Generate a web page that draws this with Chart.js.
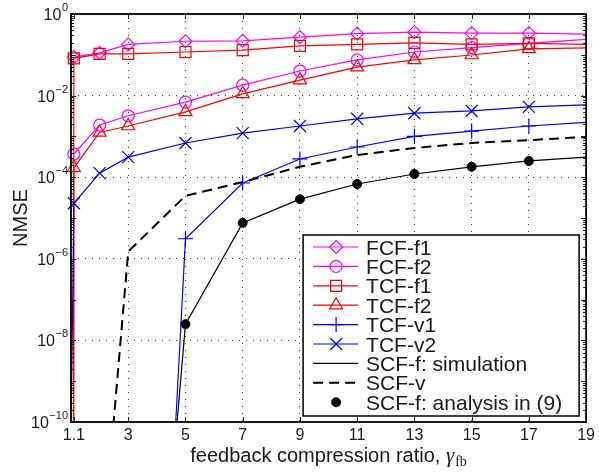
<!DOCTYPE html>
<html>
<head>
<meta charset="utf-8">
<script src="https://cdn.jsdelivr.net/npm/chart.js@4.4.1/dist/chart.umd.min.js"></script>
<style>
  html, body { margin: 0; padding: 0; background: #fff; }
  .chart-container { position: relative; width: 599px; height: 473px; }
</style>
</head>
<body>
<div class="chart-container">
  <canvas id="nmseChart" width="599" height="473"></canvas>
</div>
<script>
  // axis ticks
  const xTicks = [1.1, 3, 5, 7, 9, 11, 13, 15, 17, 19];
  const yTicks = [1e-10, 1e-8, 1e-6, 1e-4, 1e-2, 1];

  // x positions of each curve
  const xFCF = [1.1, 2, 3, 5, 7, 9, 11, 13, 15, 17, 19];
  const xTCF = [1, 1.1, 2, 3, 5, 7, 9, 11, 13, 15, 17, 19];
  const xTCFv1 = [3, 5, 7, 9, 11, 13, 15, 17, 19];
  const xSCFv = [2, 3, 5, 7, 9, 11, 13, 15, 17, 19];
  const xSCFsim = [3, 5, 7, 9, 11, 13, 15, 17, 19];
  const xSCFana = [5, 7, 9, 11, 13, 15, 17];

  // NMSE values
  const fcfF1 = [0.088, 0.112, 0.18, 0.215, 0.22, 0.27, 0.33, 0.36, 0.34, 0.34, 0.32];
  const fcfF2 = [3.7e-4, 1.9e-3, 3.2e-3, 6.9e-3, 0.018, 0.040, 0.075, 0.117, 0.15, 0.19, 0.24];
  const tcfF1 = [1e-100, 0.082, 0.105, 0.105, 0.117, 0.13, 0.165, 0.18, 0.195, 0.18, 0.19, 0.18];
  const tcfF2 = [1e-100, 1.7e-4, 1.25e-3, 1.8e-3, 4.0e-3, 0.011, 0.024, 0.050, 0.075, 0.099, 0.14, 0.147];
  const tcfV1 = [1e-32, 3.1e-6, 7.2e-5, 2.8e-4, 5.5e-4, 1.0e-3, 1.35e-3, 1.8e-3, 2.2e-3];
  const tcfV2 = [4e-11, 2.3e-5, 1.26e-4, 3.1e-4, 6.9e-4, 1.2e-3, 1.8e-3, 2.7e-3, 3.7e-3, 4.2e-3, 5.3e-3, 5.9e-3];
  const scfV = [1e-14, 1.5e-6, 3.5e-5, 7.6e-5, 1.8e-4, 3.5e-4, 5.2e-4, 6.9e-4, 8.1e-4, 9.7e-4];
  const scfSim = [1e-24, 2.5e-8, 7.6e-6, 2.9e-5, 6.8e-5, 1.2e-4, 1.8e-4, 2.5e-4, 3.1e-4];
  const scfAna = [2.5e-8, 7.6e-6, 2.9e-5, 6.8e-5, 1.2e-4, 1.8e-4, 2.5e-4];

  const yMin = 1e-10;
  const xMax = 19;
  const font = "'Liberation Sans', Arial, sans-serif";
  const textColor = "#1a1a1a";

  function pts(xs, ys) {
    return xs.map((x, i) => ({ x: x, y: ys[i] }));
  }

  // no marker where the point is off the axes or at the right edge
  function markerSize(r) {
    return (ctx) => {
      const p = ctx.raw;
      if (!p || p.y < yMin || p.x >= xMax) return 0;
      return r;
    };
  }

  function series(label, xs, ys, color, style, r, extra) {
    return Object.assign({
      label: label,
      data: pts(xs, ys),
      borderColor: color,
      borderWidth: 1.2,
      pointStyle: style,
      pointRadius: markerSize(r),
      pointHoverRadius: 0,
      pointBorderColor: color,
      pointBackgroundColor: "rgba(0,0,0,0)",
      pointBorderWidth: 1.2,
      tension: 0,
      fill: false,
      markerR: r,
      clip: { left: 8, top: 8, right: 0, bottom: 0 },
    }, extra || {});
  }

  const datasets = [
    series("FCF-f1", xFCF, fcfF1, "#ff00ff", "rectRot", 6.5),
    series("FCF-f2", xFCF, fcfF2, "#ff00ff", "circle", 6),
    series("TCF-f1", xTCF, tcfF1, "#ff0000", "rect", 7.8),
    series("TCF-f2", xTCF, tcfF2, "#ff0000", "triangle", 7.5),
    series("TCF-v1", xTCFv1, tcfV1, "#0000ff", "cross", 7.5),
    series("TCF-v2", xTCF, tcfV2, "#0000ff", "crossRot", 8.5),
    series("SCF-f: simulation", xSCFsim, scfSim, "#000000", false, 0, { pointRadius: 0 }),
    series("SCF-v", xSCFv, scfV, "#000000", false, 0, { pointRadius: 0, borderWidth: 2, borderDash: [10, 6] }),
    series("SCF-f: analysis in (9)", xSCFana, scfAna, "#000000", "circle", 4.5, {
      showLine: false, pointBackgroundColor: "#000000", pointBorderWidth: 1,
    }),
  ];
  // later series drawn on top, like the original plot
  datasets.forEach((d, i) => { d.order = -i; });

  function drawMarker(ctx, style, r, x, y, filled) {
    if (!style || !r) return;
    ctx.beginPath();
    if (style === "circle") {
      ctx.arc(x, y, r, 0, Math.PI * 2);
    } else if (style === "rectRot") {
      ctx.moveTo(x - r, y); ctx.lineTo(x, y - r); ctx.lineTo(x + r, y); ctx.lineTo(x, y + r); ctx.closePath();
    } else if (style === "rect") {
      const s = r * Math.SQRT1_2;
      ctx.rect(x - s, y - s, 2 * s, 2 * s);
    } else if (style === "triangle") {
      ctx.moveTo(x, y - r); ctx.lineTo(x + r * 0.866, y + r / 2); ctx.lineTo(x - r * 0.866, y + r / 2); ctx.closePath();
    } else if (style === "cross") {
      ctx.moveTo(x, y - r); ctx.lineTo(x, y + r); ctx.moveTo(x - r, y); ctx.lineTo(x + r, y);
    } else if (style === "crossRot") {
      const s = r * Math.SQRT1_2;
      ctx.moveTo(x - s, y - s); ctx.lineTo(x + s, y + s); ctx.moveTo(x - s, y + s); ctx.lineTo(x + s, y - s);
    }
    if (filled) ctx.fill();
    ctx.stroke();
  }

  const decorations = {
    id: "decorations",
    afterDatasetsDraw(chart) {
      const ctx = chart.ctx;
      const a = chart.chartArea;
      const xs = chart.scales.x;
      const ys = chart.scales.y;
      ctx.save();

      // inward tick marks
      ctx.strokeStyle = "#222";
      ctx.lineWidth = 1;
      ctx.beginPath();
      xTicks.forEach((v) => {
        const px = Math.round(xs.getPixelForValue(v)) + 0.5;
        ctx.moveTo(px, a.bottom); ctx.lineTo(px, a.bottom - 5);
        ctx.moveTo(px, a.top); ctx.lineTo(px, a.top + 5);
      });
      for (let e = -10; e <= 0; e++) {
        const py = Math.round(ys.getPixelForValue(Math.pow(10, e))) + 0.5;
        ctx.moveTo(a.left, py); ctx.lineTo(a.left + 5, py);
        ctx.moveTo(a.right, py); ctx.lineTo(a.right - 5, py);
        if (e < 0) {
          for (let k = 2; k <= 9; k++) {
            const pm = Math.round(ys.getPixelForValue(k * Math.pow(10, e))) + 0.5;
            ctx.moveTo(a.left, pm); ctx.lineTo(a.left + 3, pm);
            ctx.moveTo(a.right, pm); ctx.lineTo(a.right - 3, pm);
          }
        }
      }
      ctx.stroke();

      // axes box
      ctx.strokeStyle = "#000";
      ctx.lineWidth = 1.8;
      ctx.strokeRect(a.left, a.top, a.right - a.left, a.bottom - a.top);

      // y tick labels 10^n
      ctx.fillStyle = textColor;
      ctx.textAlign = "right";
      ctx.textBaseline = "alphabetic";
      yTicks.forEach((v) => {
        const e = Math.round(Math.log10(v));
        const py = ys.getPixelForValue(v);
        const expText = e === 0 ? "0" : "\u2212" + (-e);
        const rx = a.left - 3;
        ctx.font = "11px " + font;
        const ew = ctx.measureText(expText).width;
        ctx.fillText(expText, rx, py - 3);
        ctx.font = "16px " + font;
        ctx.fillText("10", rx - ew - 0.5, py + 6);
      });

      // y title
      ctx.save();
      ctx.translate(27, (a.top + a.bottom) / 2);
      ctx.rotate(-Math.PI / 2);
      ctx.textAlign = "center";
      ctx.font = "20px " + font;
      ctx.fillText("NMSE", 0, 0);
      ctx.restore();

      // x title with gamma_fb
      const t1 = "feedback compression ratio, ";
      ctx.textAlign = "left";
      ctx.font = "20px " + font;
      const w1 = ctx.measureText(t1).width;
      ctx.font = "italic 21px 'Liberation Serif', 'DejaVu Serif', serif";
      const w2 = ctx.measureText("\u03b3").width;
      ctx.font = "14px 'Liberation Serif', 'DejaVu Serif', serif";
      const w3 = ctx.measureText("fb").width;
      let tx = (a.left + a.right) / 2 - (w1 + w2 + w3 + 1) / 2;
      const tb = 462;
      ctx.font = "20px " + font;
      ctx.fillText(t1, tx, tb);
      tx += w1;
      ctx.font = "italic 21px 'Liberation Serif', 'DejaVu Serif', serif";
      ctx.fillText("\u03b3", tx, tb);
      tx += w2 + 1;
      ctx.font = "14px 'Liberation Serif', 'DejaVu Serif', serif";
      ctx.fillText("fb", tx, tb + 4);

      // legend box
      const lw = 276, lh = 181;
      const lx = a.right - 7 - lw;
      const ly = a.bottom - 6 - lh;
      ctx.fillStyle = "#fff";
      ctx.fillRect(lx, ly, lw, lh);
      ctx.strokeStyle = "#000";
      ctx.lineWidth = 1.5;
      ctx.strokeRect(lx, ly, lw, lh);
      chart.data.datasets.forEach((d, i) => {
        const ry = ly + 12 + i * 19.4;
        ctx.strokeStyle = d.borderColor;
        ctx.fillStyle = d.pointBackgroundColor;
        if (d.showLine !== false) {
          ctx.lineWidth = d.borderWidth;
          ctx.setLineDash(d.borderDash || []);
          ctx.beginPath();
          ctx.moveTo(lx + 10, ry);
          ctx.lineTo(lx + 55, ry);
          ctx.stroke();
          ctx.setLineDash([]);
        }
        ctx.lineWidth = d.pointBorderWidth;
        drawMarker(ctx, d.pointStyle, d.markerR, lx + 33, ry, d.showLine === false);
        ctx.fillStyle = textColor;
        ctx.font = "21px " + font;
        ctx.textAlign = "left";
        ctx.fillText(d.label, lx + 63, ry + 7.5);
      });

      ctx.restore();
    },
  };

  const chart = new Chart(document.getElementById("nmseChart").getContext("2d"), {
    type: "line",
    data: { datasets: datasets },
    options: {
      responsive: false,
      animation: false,
      devicePixelRatio: 1,
      layout: { padding: { top: 14, right: 9, left: 0, bottom: 0 } },
      plugins: { legend: { display: false }, tooltip: { enabled: false } },
      scales: {
        x: {
          type: "linear",
          min: 1,
          max: 19,
          afterBuildTicks: (scale) => { scale.ticks = xTicks.map((v) => ({ value: v })); },
          afterFit: (scale) => { scale.height = 51; },
          ticks: {
            autoSkip: false,
            maxRotation: 0,
            padding: 4,
            color: textColor,
            font: { family: font, size: 16 },
            callback: (v) => String(v),
          },
          grid: {
            drawTicks: false,
            lineWidth: 1,
            color: (c) => (c.tick && (c.tick.value <= 1.1 || c.tick.value >= 19)) ? "rgba(0,0,0,0)" : "rgba(30,30,30,0.85)",
          },
          border: { display: false, dash: [1, 6] },
        },
        y: {
          type: "logarithmic",
          min: 1e-10,
          max: 1,
          afterBuildTicks: (scale) => { scale.ticks = yTicks.map((v) => ({ value: v })); },
          afterFit: (scale) => { scale.width = 71; },
          ticks: { display: false },
          grid: {
            drawTicks: false,
            lineWidth: 1,
            color: (c) => (c.tick && (c.tick.value <= 1e-10 || c.tick.value >= 1)) ? "rgba(0,0,0,0)" : "rgba(30,30,30,0.85)",
          },
          border: { display: false, dash: [1, 6] },
        },
      },
    },
    plugins: [decorations],
  });
</script>
</body>
</html>
